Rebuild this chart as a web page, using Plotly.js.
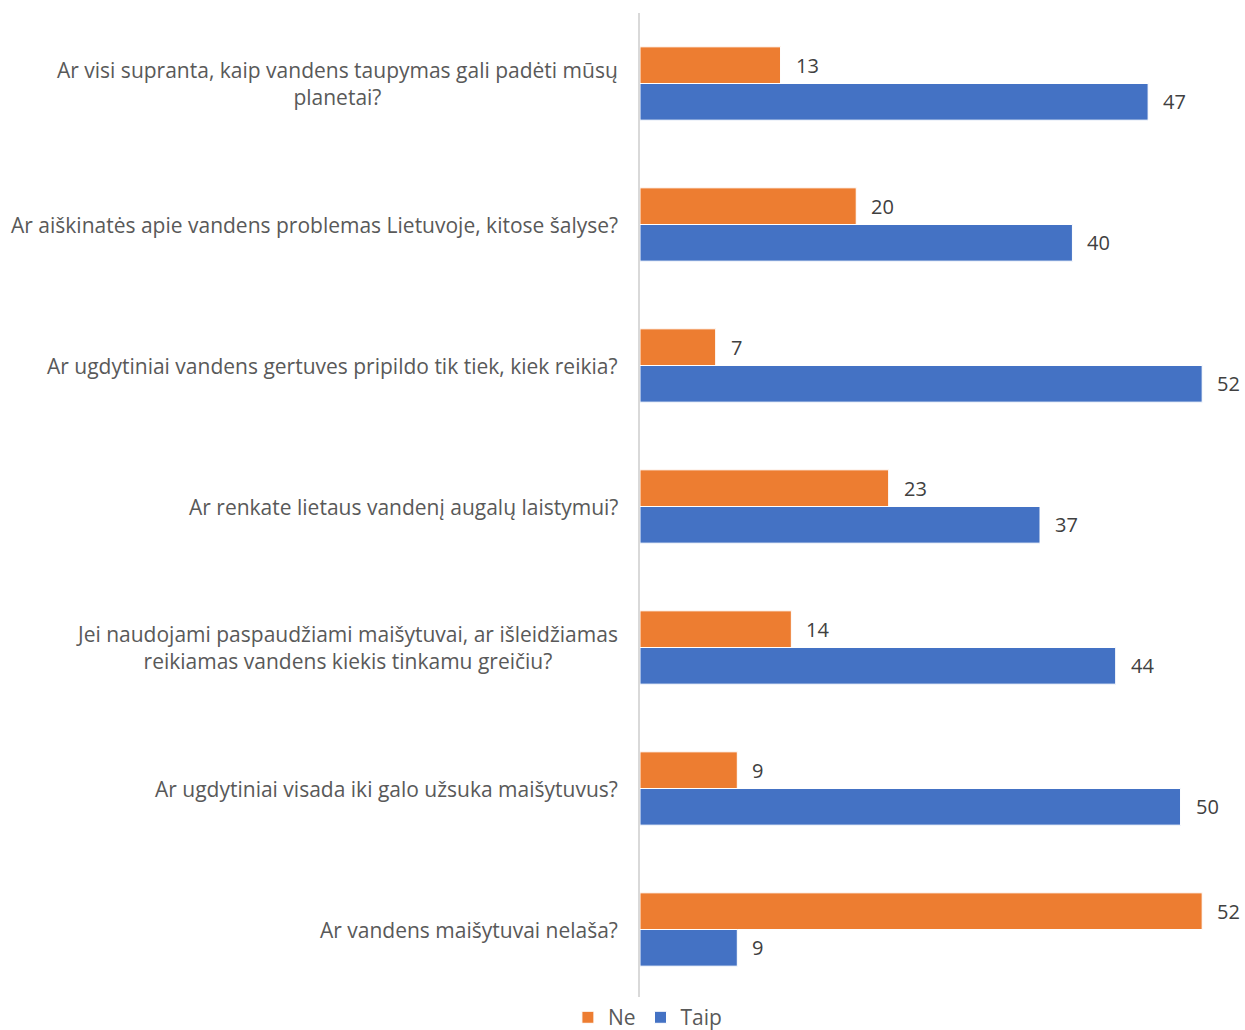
<!DOCTYPE html>
<html>
<head>
<meta charset="utf-8">
<script src="https://cdn.plot.ly/plotly-3.0.1.min.js"></script>
<style>html,body{margin:0;padding:0;background:#fff;}#chart{width:1245px;height:1030px;}</style>
</head>
<body>
<div id="chart"></div>
<script>
const categories = [
  "Ar visi supranta, kaip vandens taupymas gali padėti mūsų<br>planetai?",
  "Ar aiškinatės apie vandens problemas Lietuvoje, kitose šalyse?",
  "Ar ugdytiniai vandens gertuves pripildo tik tiek, kiek reikia?",
  "Ar renkate lietaus vandenį augalų laistymui?",
  "Jei naudojami paspaudžiami maišytuvai, ar išleidžiamas<br>reikiamas vandens kiekis tinkamu greičiu?",
  "Ar ugdytiniai visada iki galo užsuka maišytuvus?",
  "Ar vandens maišytuvai nelaša?"
];
const neValues = [13, 20, 7, 23, 14, 9, 52];
const taipValues = [47, 40, 52, 37, 44, 50, 9];
const seriesNames = ["Ne", "Taip"];

const FONT = "'Open Sans', 'Noto Sans', sans-serif";
const LABEL_SIZE = 21;

const traces = [
  {type: "bar", orientation: "h", name: seriesNames[0], y: categories, x: neValues,
   marker: {color: "#ED7D31", line: {color: "#ffffff", width: 1}}, textposition: "none"},
  {type: "bar", orientation: "h", name: seriesNames[1], y: categories, x: taipValues,
   marker: {color: "#4472C4", line: {color: "#ffffff", width: 1}}, textposition: "none"}
];

const annotations = categories.map(c => ({
  xref: "paper", yref: "y", x: 0, y: c, xanchor: "right", yanchor: "middle",
  xshift: -20, text: c, showarrow: false, align: "center",
  font: {family: FONT, size: LABEL_SIZE, color: "#595959"}
}));

[neValues, taipValues].forEach((vals, si) => {
  vals.forEach((v, i) => {
    annotations.push({
      xref: "x", yref: "y", x: v, y: categories[i], xanchor: "left", yanchor: "middle",
      xshift: 13, yshift: si === 0 ? 18 : -18, text: String(v), showarrow: false,
      font: {family: FONT, size: 20, color: "#404040"}
    });
  });
});

const layout = {
  width: 1245, height: 1030,
  margin: {l: 640, r: 5, t: 13, b: 30, autoexpand: false},
  paper_bgcolor: "#ffffff", plot_bgcolor: "#ffffff",
  barmode: "group", bargap: 0.48, bargroupgap: 0,
  font: {family: FONT, size: LABEL_SIZE, color: "#595959"},
  xaxis: {range: [0, 55.5], showgrid: false, zeroline: false, showticklabels: false, showline: false, fixedrange: true},
  yaxis: {autorange: "reversed", showticklabels: false, showgrid: false, zeroline: false,
          showline: true, linecolor: "#d9d9d9", linewidth: 2, ticks: ""},
  showlegend: true,
  legend: {orientation: "h", xref: "container", yref: "container", x: 0.52, y: 0.012,
           xanchor: "center", yanchor: "middle", font: {family: FONT, size: LABEL_SIZE, color: "#595959"},
           itemwidth: 30, traceorder: "normal"},
  annotations: annotations
};

Plotly.newPlot("chart", traces, layout, {displayModeBar: false, staticPlot: true});
</script>
</body>
</html>
